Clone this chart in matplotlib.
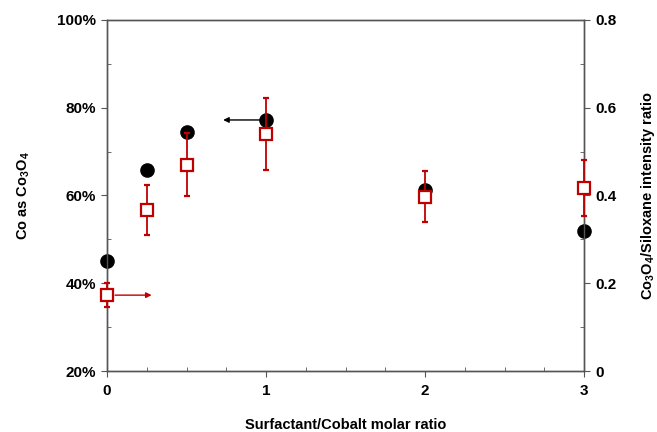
import matplotlib
matplotlib.use("Agg")
import matplotlib.pyplot as plt
from matplotlib.ticker import FixedLocator, FuncFormatter

plt.rcParams['font.family'] = ['Liberation Sans', 'DejaVu Sans']
plt.rcParams['font.weight'] = 'bold'
plt.rcParams['mathtext.fontset'] = 'custom'
plt.rcParams['mathtext.rm'] = 'Liberation Sans:bold'
plt.rcParams['mathtext.it'] = 'Liberation Sans:bold'
plt.rcParams['mathtext.bf'] = 'Liberation Sans:bold'

ratio = [0, 0.25, 0.5, 1, 2, 3]
co3o4_pct = [45.1, 65.8, 74.4, 77.2, 61.2, 51.9]
intensity = [0.173, 0.367, 0.470, 0.540, 0.397, 0.417]
intensity_err = [0.027, 0.056, 0.072, 0.082, 0.058, 0.063]

red = '#C00000'

fig = plt.figure(figsize=(6.57, 4.32), dpi=100)
ax = fig.add_axes([0.163, 0.141, 0.726, 0.813])
ax2 = ax.twinx()

ax.plot(ratio, co3o4_pct, 'o', color='black', markersize=9.5, clip_on=False, zorder=3)
ax2.errorbar(ratio, intensity, yerr=intensity_err, fmt='s', color=red, ecolor=red,
             markerfacecolor='white', markeredgecolor=red, markersize=8.5,
             markeredgewidth=1.6, elinewidth=1.3, capsize=2.5, capthick=1.2,
             clip_on=False, zorder=3)

ax.set_xlim(0, 3)
ax.set_ylim(20, 100)
ax2.set_ylim(0, 0.8)

for a in (ax, ax2):
    for s in a.spines.values():
        s.set_color('#555555')
        s.set_linewidth(1.0)

ax.xaxis.set_major_locator(FixedLocator([0, 1, 2, 3]))
ax.xaxis.set_minor_locator(FixedLocator([0.25, 0.5, 0.75, 1.25, 1.5, 1.75, 2.25, 2.5, 2.75]))
ax.yaxis.set_major_locator(FixedLocator([20, 40, 60, 80, 100]))
ax.yaxis.set_minor_locator(FixedLocator([30, 50, 70, 90]))
ax.yaxis.set_major_formatter(FuncFormatter(lambda v, p: f"{v:.0f}%"))
ax2.yaxis.set_major_locator(FixedLocator([0, 0.2, 0.4, 0.6, 0.8]))
ax2.yaxis.set_minor_locator(FixedLocator([0.1, 0.3, 0.5, 0.7]))
ax2.yaxis.set_major_formatter(FuncFormatter(lambda v, p: "0" if v == 0 else f"{v:.1f}"))

ax.tick_params(axis='both', which='major', direction='out', length=4, color='#555555',
               labelsize=11, pad=4)
ax.tick_params(axis='both', which='minor', direction='in', length=3, color='#555555')
ax.tick_params(axis='x', which='major', pad=5)
ax2.tick_params(axis='y', which='major', direction='out', length=4, color='#555555',
                labelsize=11, pad=4)
ax2.tick_params(axis='y', which='minor', direction='in', length=3, color='#555555')

for lab in ax.get_xticklabels() + ax.get_yticklabels() + ax2.get_yticklabels():
    lab.set_fontweight('bold')

ax.set_xlabel('Surfactant/Cobalt molar ratio', fontsize=10.5, fontweight='bold', labelpad=15)
ax.set_ylabel('Co as Co$_3$O$_4$', fontsize=10.5, fontweight='bold', labelpad=18)
ax2.set_ylabel('Co$_3$O$_4$/Siloxane intensity ratio', fontsize=10.5, fontweight='bold', labelpad=16)

ax.annotate('', xy=(0.73, 77.2), xytext=(0.96, 77.2),
            arrowprops=dict(arrowstyle='-|>', color='black', lw=1.0, mutation_scale=8,
                            shrinkA=0, shrinkB=0))
ax2.annotate('', xy=(0.28, 0.173), xytext=(0.05, 0.173),
             arrowprops=dict(arrowstyle='-|>', color=red, lw=1.0, mutation_scale=8,
                             shrinkA=0, shrinkB=0))

fig.savefig('out.png', dpi=100)
